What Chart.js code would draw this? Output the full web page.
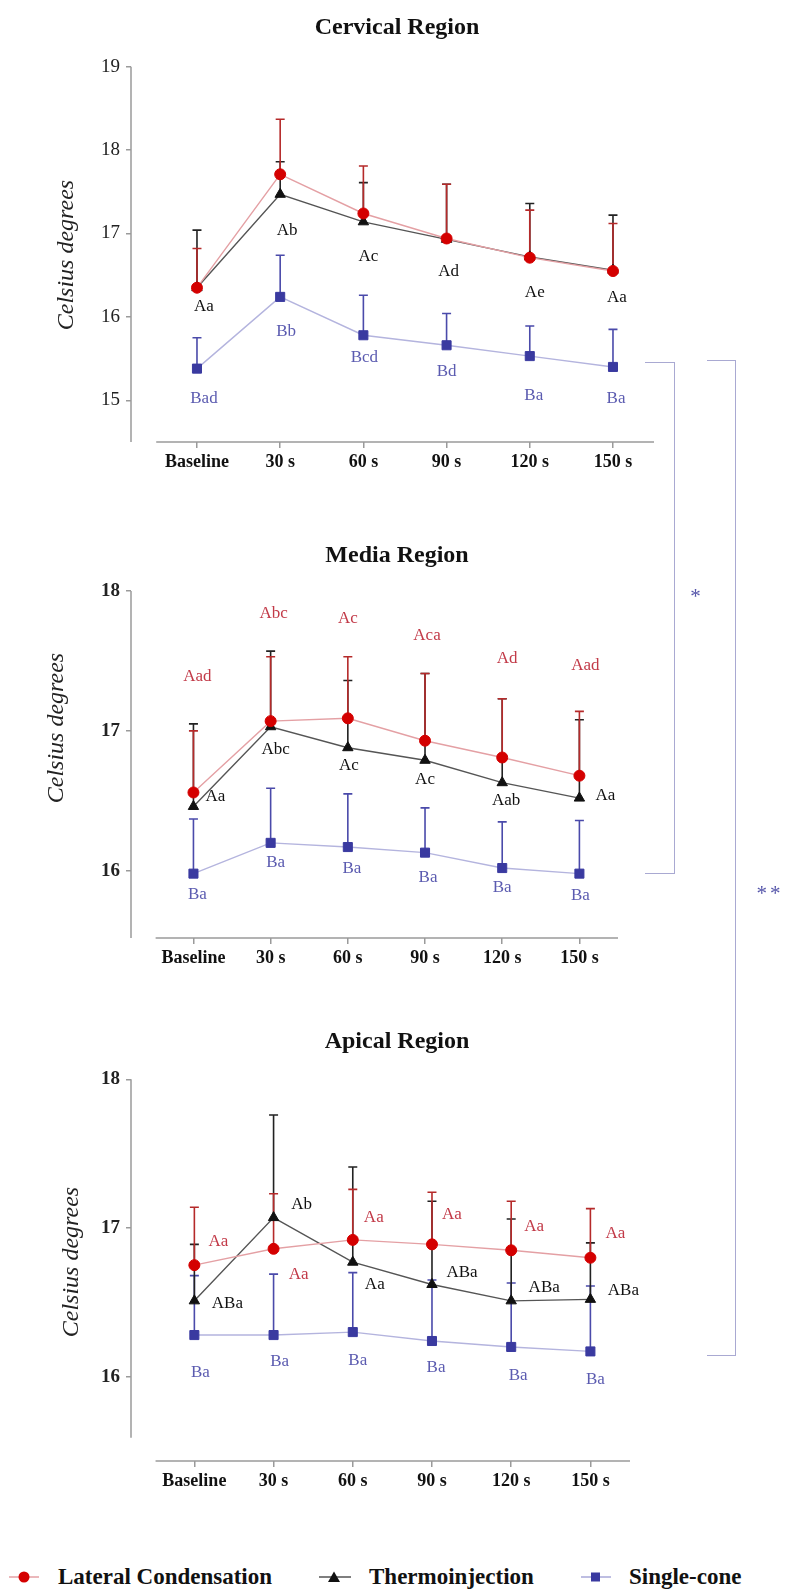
<!DOCTYPE html>
<html>
<head>
<meta charset="utf-8">
<script src="https://cdn.jsdelivr.net/npm/chart.js@4.4.0/dist/chart.umd.min.js"></script>
<style>
  body { margin: 0; background: #fff; width: 792px; height: 1596px; position: relative; overflow: hidden; font-family: "Liberation Serif", serif; }
  canvas { position: absolute; left: 0; }
  .bracket { position: absolute; border: 1.5px solid #a9a9d2; border-left: none; box-sizing: border-box; }
  .star { position: absolute; color: #5656aa; font-size: 21px; transform: translate(-50%, -50%); letter-spacing: 3px; }
  .legend-item { position: absolute; top: 1564px; height: 26px; display: flex; align-items: center; font-weight: bold; font-size: 23px; color: #111; }
  .legend-item svg { margin-right: 17px; }
</style>
</head>
<body>
<canvas id="cervical" width="792" height="482" style="top:0px"></canvas>
<canvas id="media" width="792" height="468" style="top:510px"></canvas>
<canvas id="apical" width="792" height="501" style="top:1000px"></canvas>

<div class="bracket" style="left:645px; top:362px; width:30px; height:512px"></div>
<div class="bracket" style="left:707px; top:360px; width:29px; height:996px"></div>
<div class="star" style="left:697px; top:596px">*</div>
<div class="star" style="left:770px; top:893px">**</div>

<div class="legend-item" style="left:8px">
  <svg width="32" height="14" style="margin-right:18px"><line x1="1" y1="7" x2="31" y2="7" stroke="#e4a0a4" stroke-width="1.5"/><circle cx="16" cy="7" r="5.5" fill="#d40000"/></svg>Lateral Condensation
</div>
<div class="legend-item" style="left:318px">
  <svg width="34" height="14"><line x1="1" y1="7" x2="33" y2="7" stroke="#555" stroke-width="1.5"/><polygon points="16,1.5 22,12 10,12" fill="#111"/></svg>Thermoinjection
</div>
<div class="legend-item" style="left:580px">
  <svg width="32" height="14"><line x1="1" y1="7" x2="31" y2="7" stroke="#a8a8d8" stroke-width="1.5"/><rect x="11" y="2.5" width="9" height="9" fill="#3a3aa0"/></svg>Single-cone
</div>

<script>
const timePoints = ['Baseline', '30 s', '60 s', '90 s', '120 s', '150 s'];
const seriesNames = ['Lateral Condensation', 'Thermoinjection', 'Single-cone'];

// Cervical region (mean and upper SD)
const cervicalLateral = [16.35, 17.71, 17.24, 16.94, 16.71, 16.55];
const cervicalLateralSd = [0.47, 0.66, 0.57, 0.65, 0.57, 0.57];
const cervicalThermo = [16.35, 17.47, 17.14, 16.93, 16.72, 16.56];
const cervicalThermoSd = [0.69, 0.39, 0.47, 0.66, 0.64, 0.66];
const cervicalSingle = [15.38, 16.24, 15.78, 15.66, 15.53, 15.40];
const cervicalSingleSd = [0.37, 0.50, 0.48, 0.38, 0.36, 0.45];
const cervicalTicks = [15, 16, 17, 18, 19];
const cervicalThermoLetters = ['Aa', 'Ab', 'Ac', 'Ad', 'Ae', 'Aa'];
const cervicalThermoLetterY = [16.13, 17.04, 16.72, 16.54, 16.29, 16.23];
const cervicalSingleLetters = ['Bad', 'Bb', 'Bcd', 'Bd', 'Ba', 'Ba'];
const cervicalSingleLetterY = [15.02, 15.83, 15.51, 15.34, 15.06, 15.02];

// Media region
const mediaLateral = [16.56, 17.07, 17.09, 16.93, 16.81, 16.68];
const mediaLateralSd = [0.44, 0.46, 0.44, 0.48, 0.42, 0.46];
const mediaThermo = [16.46, 17.03, 16.88, 16.79, 16.63, 16.52];
const mediaThermoSd = [0.59, 0.54, 0.48, 0.62, 0.60, 0.56];
const mediaSingle = [15.98, 16.20, 16.17, 16.13, 16.02, 15.98];
const mediaSingleSd = [0.39, 0.39, 0.38, 0.32, 0.33, 0.38];
const mediaTicks = [16, 17, 18];
const mediaLateralLetters = ['Aad', 'Abc', 'Ac', 'Aca', 'Ad', 'Aad'];
const mediaLateralLetterY = [17.39, 17.84, 17.80, 17.68, 17.52, 17.47];
const mediaThermoLetters = ['Aa', 'Abc', 'Ac', 'Ac', 'Aab', 'Aa'];
const mediaThermoLetterY = [16.53, 16.87, 16.75, 16.65, 16.50, 16.54];
const mediaSingleLetters = ['Ba', 'Ba', 'Ba', 'Ba', 'Ba', 'Ba'];
const mediaSingleLetterY = [15.83, 16.06, 16.02, 15.95, 15.88, 15.82];

// Apical region
const apicalLateral = [16.75, 16.86, 16.92, 16.89, 16.85, 16.80];
const apicalLateralSd = [0.39, 0.37, 0.34, 0.35, 0.33, 0.33];
const apicalThermo = [16.51, 17.07, 16.77, 16.62, 16.51, 16.52];
const apicalThermoSd = [0.38, 0.69, 0.64, 0.56, 0.55, 0.38];
const apicalSingle = [16.28, 16.28, 16.30, 16.24, 16.20, 16.17];
const apicalSingleSd = [0.40, 0.41, 0.40, 0.41, 0.43, 0.44];
const apicalTicks = [16, 17, 18];
const apicalLateralLetters = ['Aa', 'Aa', 'Aa', 'Aa', 'Aa', 'Aa'];
const apicalLateralLetterY = [16.91, 16.69, 17.07, 17.09, 17.01, 16.96];
const apicalThermoLetters = ['ABa', 'Ab', 'Aa', 'ABa', 'ABa', 'ABa'];
const apicalThermoLetterY = [16.49, 17.16, 16.62, 16.70, 16.60, 16.58];
const apicalSingleLetters = ['Ba', 'Ba', 'Ba', 'Ba', 'Ba', 'Ba'];
const apicalSingleLetterY = [16.03, 16.10, 16.11, 16.06, 16.01, 15.98];

const RED = '#d40000', BLACK = '#111111', BLUE = '#3a3aa0';
const FONT = '"Liberation Serif", "Times New Roman", serif';

const toPoints = arr => arr.map((v, i) => ({ x: i, y: v }));

function makeDataset(i, values, sd) {
    const styles = [
        { color: RED, line: '#e4a0a4', bar: '#b52a2a', point: 'circle', r: 5.5 },
        { color: BLACK, line: '#555555', bar: '#222222', point: 'triangle', r: 6 },
        { color: BLUE, line: '#b4b4de', bar: '#4a4aaa', point: 'rect', r: 6.4 }
    ][i];
    return {
        label: seriesNames[i],
        data: toPoints(values),
        sd: sd,
        barColor: styles.bar,
        borderColor: styles.line,
        borderWidth: 1.4,
        pointStyle: styles.point,
        pointRadius: styles.r,
        pointBackgroundColor: styles.color,
        pointBorderColor: styles.color,
        pointBorderWidth: 1,
        tension: 0
    };
}

// error bars (upper only), drawn under the lines and markers
const errorBars = {
    id: 'errorBars',
    beforeDatasetsDraw(chart) {
        const { ctx, scales: { x, y } } = chart;
        [2, 1, 0].forEach(di => {
            const ds = chart.data.datasets[di];
            ctx.save();
            ctx.strokeStyle = ds.barColor;
            ctx.lineWidth = 1.6;
            ds.data.forEach((p, i) => {
                const px = x.getPixelForValue(p.x);
                const y0 = y.getPixelForValue(p.y);
                const y1 = y.getPixelForValue(p.y + ds.sd[i]);
                ctx.beginPath();
                ctx.moveTo(px, y0);
                ctx.lineTo(px, y1);
                ctx.moveTo(px - 4.5, y1);
                ctx.lineTo(px + 4.5, y1);
                ctx.stroke();
            });
            ctx.restore();
        });
    }
};

// detached axis lines, panel titles and the rotated y title
function makeFrame(p) {
    return {
        id: 'frame',
        beforeDatasetsDraw(chart) {
            const { ctx, chartArea, scales: { x, y } } = chart;
            ctx.save();
            ctx.strokeStyle = '#9a9a9a';
            ctx.lineWidth = 1.5;
            ctx.beginPath();
            ctx.moveTo(chartArea.left, chartArea.top);
            ctx.lineTo(chartArea.left, y.getPixelForValue(p.yAxisEnd));
            ctx.moveTo(x.getPixelForValue(-0.49), chartArea.bottom);
            ctx.lineTo(chartArea.right, chartArea.bottom);
            ctx.stroke();

            ctx.fillStyle = '#111';
            ctx.textAlign = 'center';
            ctx.textBaseline = 'middle';
            ctx.font = 'bold 24px ' + FONT;
            ctx.fillText(p.title, 397, p.titleY);

            ctx.fillStyle = '#222';
            ctx.font = 'italic 24px ' + FONT;
            ctx.translate(p.yTitleX, p.yTitleY);
            ctx.rotate(-Math.PI / 2);
            ctx.fillText('Celsius degrees', 0, 0);
            ctx.restore();
        }
    };
}

function makeLetters(groups) {
    return {
        id: 'letters',
        afterDatasetsDraw(chart) {
            const { ctx, scales: { x, y } } = chart;
            ctx.save();
            ctx.font = '17px ' + FONT;
            ctx.textAlign = 'center';
            ctx.textBaseline = 'middle';
            groups.forEach(g => {
                ctx.fillStyle = g.color;
                g.text.forEach((t, i) => {
                    ctx.fillText(t, x.getPixelForValue(i) + g.dx[i], y.getPixelForValue(g.y[i]));
                });
            });
            ctx.restore();
        }
    };
}

function buildChart(p) {
    new Chart(document.getElementById(p.id), {
        type: 'line',
        data: {
            datasets: [
                makeDataset(0, p.lateral, p.lateralSd),
                makeDataset(1, p.thermo, p.thermoSd),
                makeDataset(2, p.single, p.singleSd)
            ]
        },
        options: {
            responsive: false,
            animation: false,
            layout: { padding: { left: 0, right: p.padRight, top: p.padTop, bottom: 0 } },
            plugins: {
                legend: { display: false },
                tooltip: { enabled: false },
                title: { display: false }
            },
            scales: {
                x: {
                    type: 'linear',
                    min: p.xMin,
                    max: p.xMax,
                    afterBuildTicks: s => { s.ticks = timePoints.map((_, i) => ({ value: i })); },
                    afterFit: s => { s.height = 40; },
                    grid: { drawOnChartArea: false, drawTicks: true, tickLength: 6, color: '#9a9a9a', lineWidth: 1.5 },
                    border: { display: false },
                    ticks: {
                        padding: 4,
                        color: '#111',
                        font: { family: FONT, size: 18, weight: 'bold' },
                        maxRotation: 0,
                        callback: v => timePoints[v]
                    }
                },
                y: {
                    min: p.yMin,
                    max: p.yMax,
                    afterBuildTicks: s => { s.ticks = p.ticks.map(v => ({ value: v })); },
                    afterFit: s => { s.width = 131; },
                    grid: { drawOnChartArea: false, drawTicks: true, tickLength: 5, color: '#9a9a9a', lineWidth: 1.5 },
                    border: { display: false },
                    ticks: { padding: 6, color: '#222', font: { family: FONT, size: 19, weight: p.tickWeight } }
                }
            }
        },
        plugins: [makeFrame(p), errorBars, makeLetters(p.letters)]
    });
}

const panels = [
    {
        id: 'cervical', title: 'Cervical Region', titleY: 28, padTop: 66.7, padRight: 138,
        yTitleX: 67, yTitleY: 255, tickWeight: 'normal',
        xMin: -0.793, xMax: 5.493, yMin: 14.5, yMax: 19, yAxisEnd: 14.5, ticks: cervicalTicks,
        lateral: cervicalLateral, lateralSd: cervicalLateralSd,
        thermo: cervicalThermo, thermoSd: cervicalThermoSd,
        single: cervicalSingle, singleSd: cervicalSingleSd,
        letters: [
            { color: '#111', text: cervicalThermoLetters, y: cervicalThermoLetterY, dx: [7, 7, 5, 2, 5, 4] },
            { color: '#5b5bb0', text: cervicalSingleLetters, y: cervicalSingleLetterY, dx: [7, 6, 1, 0, 4, 3] }
        ]
    },
    {
        id: 'media', title: 'Media Region', titleY: 46, padTop: 81, padRight: 174,
        yTitleX: 57, yTitleY: 218, tickWeight: 'bold',
        xMin: -0.809, xMax: 5.5, yMin: 15.52, yMax: 18, yAxisEnd: 15.52, ticks: mediaTicks,
        lateral: mediaLateral, lateralSd: mediaLateralSd,
        thermo: mediaThermo, thermoSd: mediaThermoSd,
        single: mediaSingle, singleSd: mediaSingleSd,
        letters: [
            { color: '#c23a48', text: mediaLateralLetters, y: mediaLateralLetterY, dx: [4, 3, 0, 2, 5, 6] },
            { color: '#111', text: mediaThermoLetters, y: mediaThermoLetterY, dx: [22, 5, 1, 0, 4, 26] },
            { color: '#5b5bb0', text: mediaSingleLetters, y: mediaSingleLetterY, dx: [4, 5, 4, 3, 0, 1] }
        ]
    },
    {
        id: 'apical', title: 'Apical Region', titleY: 42, padTop: 79.3, padRight: 162,
        yTitleX: 72, yTitleY: 262, tickWeight: 'bold',
        xMin: -0.8, xMax: 5.5, yMin: 15.433, yMax: 18, yAxisEnd: 15.59, ticks: apicalTicks,
        lateral: apicalLateral, lateralSd: apicalLateralSd,
        thermo: apicalThermo, thermoSd: apicalThermoSd,
        single: apicalSingle, singleSd: apicalSingleSd,
        letters: [
            { color: '#c23a48', text: apicalLateralLetters, y: apicalLateralLetterY, dx: [24, 25, 21, 20, 23, 25] },
            { color: '#111', text: apicalThermoLetters, y: apicalThermoLetterY, dx: [33, 28, 22, 30, 33, 33] },
            { color: '#5b5bb0', text: apicalSingleLetters, y: apicalSingleLetterY, dx: [6, 6, 5, 4, 7, 5] }
        ]
    }
];

panels.forEach(buildChart);
</script>
</body>
</html>
